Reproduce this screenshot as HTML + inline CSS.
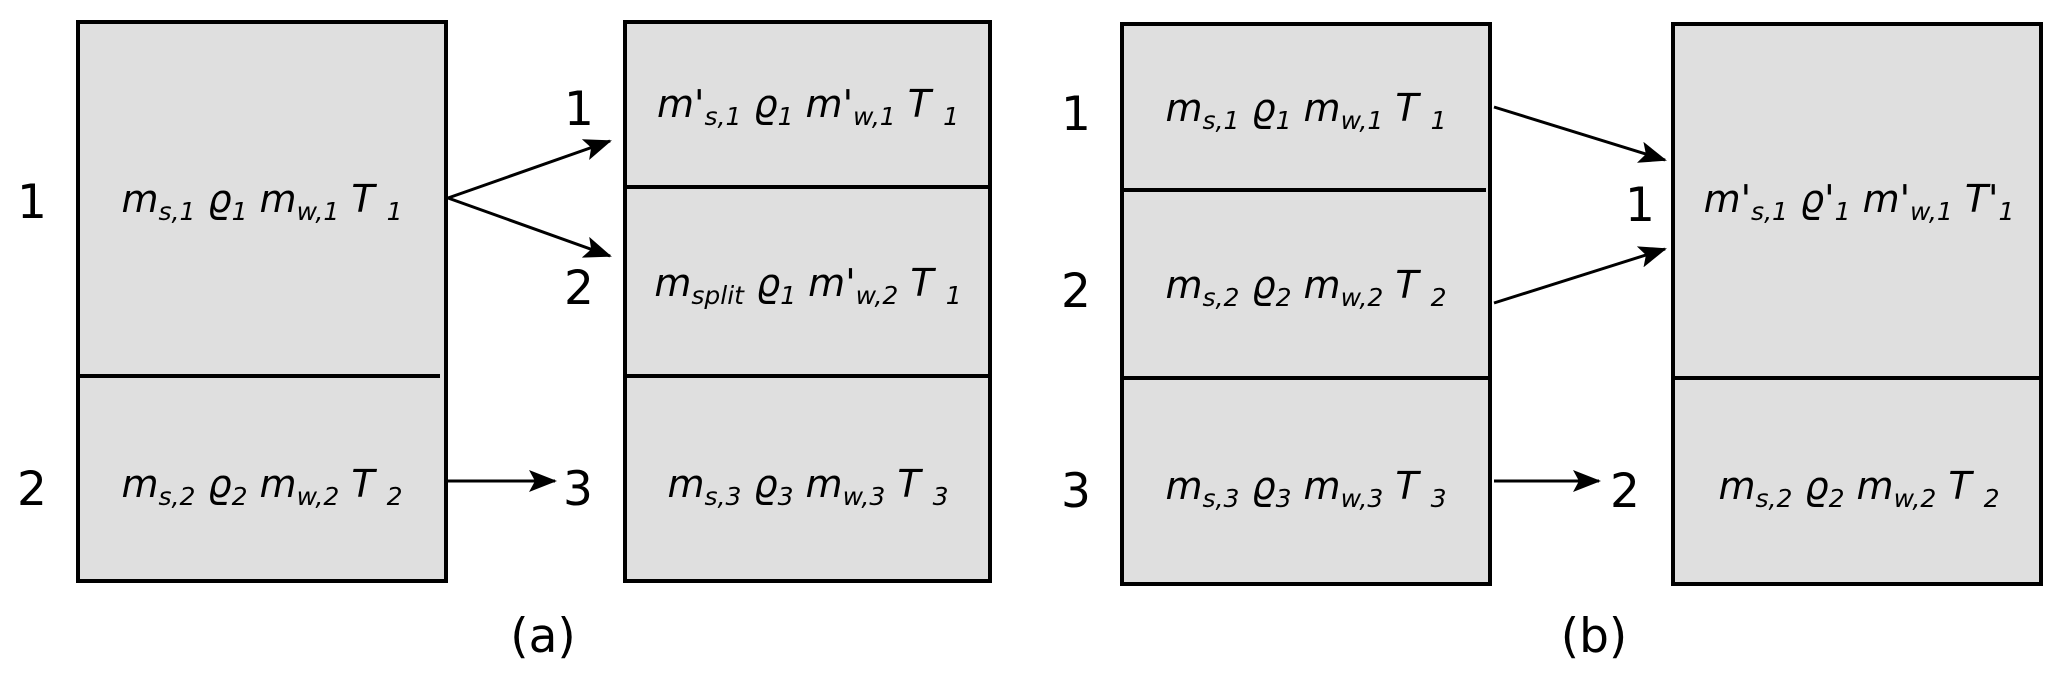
<!DOCTYPE html>
<html><head><meta charset="utf-8"><style>
html,body{margin:0;padding:0;background:#fff;}
svg{display:block;}
.n{font-family:"DejaVu Sans","Liberation Sans",sans-serif;font-size:47px;fill:#000;}
.t{font-family:"DejaVu Sans","Liberation Sans",sans-serif;font-size:38px;font-style:italic;fill:#000;}
.s{font-size:25px;}
</style></head><body>
<svg width="2067" height="678" viewBox="0 0 2067 678" xmlns="http://www.w3.org/2000/svg">
<defs>
<marker id="ah2" markerWidth="28" markerHeight="22" refX="26" refY="11" orient="auto" markerUnits="userSpaceOnUse"><path d="M0,0 L28,11 L0,22 L6,11 Z" fill="#000"/></marker></defs>
<g fill="#dfdfdf" stroke="#000" stroke-width="4">
<rect x="78" y="22" width="368" height="559"/>
<rect x="625" y="22" width="365" height="559"/>
<rect x="1122" y="24" width="368" height="560"/>
<rect x="1673" y="24" width="368" height="560"/>
</g>
<g stroke="#000" stroke-width="4">
<line x1="78" y1="376" x2="440" y2="376"/>
<line x1="625" y1="187" x2="990" y2="187"/>
<line x1="625" y1="376" x2="990" y2="376"/>
<line x1="1122" y1="190" x2="1486" y2="190"/>
<line x1="1122" y1="378" x2="1490" y2="378"/>
<line x1="1673" y1="378" x2="2041" y2="378"/>
</g>
<g stroke="#000" stroke-width="3" fill="none" marker-end="url(#ah2)">
<line x1="448" y1="198" x2="610" y2="141"/>
<line x1="448" y1="198" x2="610" y2="256"/>
<line x1="448" y1="481" x2="555" y2="481"/>
<line x1="1494" y1="107" x2="1665" y2="160"/>
<line x1="1494" y1="303" x2="1665" y2="249"/>
<line x1="1494" y1="481" x2="1599" y2="481"/>
</g>
<g class="n" text-anchor="middle">
<text x="32" y="218">1</text>
<text x="32" y="505">2</text>
<text x="579" y="125">1</text>
<text x="579" y="304">2</text>
<text x="578" y="505">3</text>
<text x="1076" y="130">1</text>
<text x="1076" y="307">2</text>
<text x="1076" y="507">3</text>
<text x="1640" y="221">1</text>
<text x="1625" y="507">2</text>
<text x="543" y="652">(a)</text>
<text x="1594" y="652">(b)</text>
</g>
<g class="t" text-anchor="middle">
<text x="262" y="212">m<tspan class="s" dy="8">s,1</tspan><tspan dy="-8"> ϱ</tspan><tspan class="s" dy="8">1</tspan><tspan dy="-8"> m</tspan><tspan class="s" dy="8">w,1</tspan><tspan dy="-8"> T </tspan><tspan class="s" dy="8">1</tspan></text>
<text x="262" y="497">m<tspan class="s" dy="8">s,2</tspan><tspan dy="-8"> ϱ</tspan><tspan class="s" dy="8">2</tspan><tspan dy="-8"> m</tspan><tspan class="s" dy="8">w,2</tspan><tspan dy="-8"> T </tspan><tspan class="s" dy="8">2</tspan></text>
<text x="808" y="117">m'<tspan class="s" dy="8">s,1</tspan><tspan dy="-8"> ϱ</tspan><tspan class="s" dy="8">1</tspan><tspan dy="-8"> m'</tspan><tspan class="s" dy="8">w,1</tspan><tspan dy="-8"> T </tspan><tspan class="s" dy="8">1</tspan></text>
<text x="808" y="296">m<tspan class="s" dy="8">split</tspan><tspan dy="-8"> ϱ</tspan><tspan class="s" dy="8">1</tspan><tspan dy="-8"> m'</tspan><tspan class="s" dy="8">w,2</tspan><tspan dy="-8"> T </tspan><tspan class="s" dy="8">1</tspan></text>
<text x="808" y="497">m<tspan class="s" dy="8">s,3</tspan><tspan dy="-8"> ϱ</tspan><tspan class="s" dy="8">3</tspan><tspan dy="-8"> m</tspan><tspan class="s" dy="8">w,3</tspan><tspan dy="-8"> T </tspan><tspan class="s" dy="8">3</tspan></text>
<text x="1306" y="121">m<tspan class="s" dy="8">s,1</tspan><tspan dy="-8"> ϱ</tspan><tspan class="s" dy="8">1</tspan><tspan dy="-8"> m</tspan><tspan class="s" dy="8">w,1</tspan><tspan dy="-8"> T </tspan><tspan class="s" dy="8">1</tspan></text>
<text x="1306" y="298">m<tspan class="s" dy="8">s,2</tspan><tspan dy="-8"> ϱ</tspan><tspan class="s" dy="8">2</tspan><tspan dy="-8"> m</tspan><tspan class="s" dy="8">w,2</tspan><tspan dy="-8"> T </tspan><tspan class="s" dy="8">2</tspan></text>
<text x="1306" y="499">m<tspan class="s" dy="8">s,3</tspan><tspan dy="-8"> ϱ</tspan><tspan class="s" dy="8">3</tspan><tspan dy="-8"> m</tspan><tspan class="s" dy="8">w,3</tspan><tspan dy="-8"> T </tspan><tspan class="s" dy="8">3</tspan></text>
<text x="1859" y="212">m'<tspan class="s" dy="8">s,1</tspan><tspan dy="-8"> ϱ'</tspan><tspan class="s" dy="8">1</tspan><tspan dy="-8"> m'</tspan><tspan class="s" dy="8">w,1</tspan><tspan dy="-8"> T'</tspan><tspan class="s" dy="8">1</tspan></text>
<text x="1859" y="499">m<tspan class="s" dy="8">s,2</tspan><tspan dy="-8"> ϱ</tspan><tspan class="s" dy="8">2</tspan><tspan dy="-8"> m</tspan><tspan class="s" dy="8">w,2</tspan><tspan dy="-8"> T </tspan><tspan class="s" dy="8">2</tspan></text>
</g>
</svg>
</body></html>
